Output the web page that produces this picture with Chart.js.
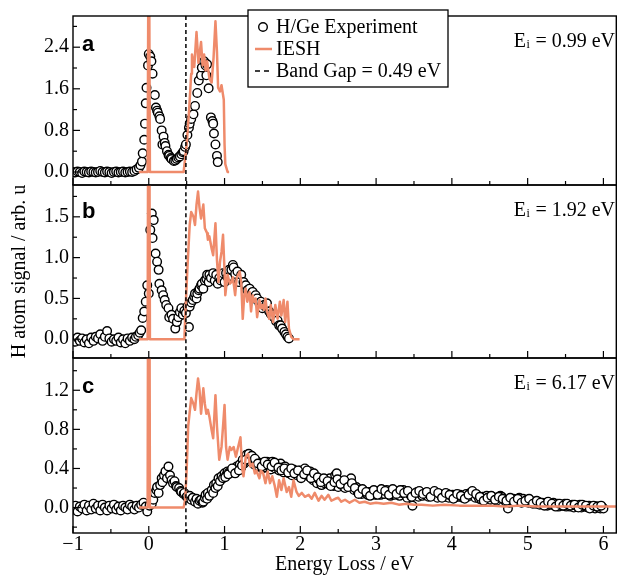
<!DOCTYPE html>
<html><head><meta charset="utf-8">
<script src="https://cdn.jsdelivr.net/npm/chart.js@4/dist/chart.umd.min.js"></script>
<style>
html,body{margin:0;padding:0;background:#fff;}
#wrap{position:relative;width:622px;height:577px;overflow:hidden;}
#wrap canvas{position:absolute;left:0;top:0;}
</style></head><body>
<div id="wrap">
<canvas id="pa" width="622" height="577"></canvas>
<canvas id="pb" width="622" height="577"></canvas>
<canvas id="pc" width="622" height="577"></canvas>
</div>
<script>
// ---------- data ----------
const xMajor = [-1, 0, 1, 2, 3, 4, 5, 6];
const xMinor = [-0.5, 0.5, 1.5, 2.5, 3.5, 4.5, 5.5];
const yTicksA = [0, 0.8, 1.6, 2.4];
const yMinorA = [0.4, 1.2, 2.0, 2.8];
const yTicksB = [0, 0.5, 1.0, 1.5];
const yMinorB = [0.25, 0.75, 1.25, 1.75];
const yTicksC = [0, 0.4, 0.8, 1.2];
const yMinorC = [-0.2, 0.2, 0.6, 1.0, 1.4];
const bandGap = 0.49;
const incidentEnergies = ['0.99', '1.92', '6.17'];
const legendLabels = ['H/Ge Experiment', 'IESH', 'Band Gap = 0.49 eV'];

const expA = [[-1.00,0.00],[-0.97,-0.01],[-0.94,0.01],[-0.91,0.00],[-0.88,-0.02],[-0.85,0.01],[-0.82,0.00],[-0.79,-0.01],[-0.76,0.01],[-0.73,0.00],
[-0.70,-0.01],[-0.67,0.00],[-0.64,0.02],[-0.61,0.00],[-0.58,-0.01],[-0.55,0.01],[-0.52,0.00],[-0.49,-0.02],[-0.46,0.00],[-0.43,0.01],
[-0.40,-0.01],[-0.37,0.00],[-0.34,0.01],[-0.31,-0.01],[-0.28,0.00],[-0.25,0.01],[-0.22,0.00],[-0.19,0.02],[-0.16,0.05],[-0.13,0.08],
[-0.11,0.13],[-0.09,0.20],[-0.08,0.36],[-0.06,0.62],[-0.05,0.93],[-0.04,1.32],[-0.03,1.62],[-0.01,2.05],[0.00,2.27],[0.02,2.22],
[0.035,2.13],[0.05,1.89],[0.08,1.48],[0.095,1.24],[0.11,1.18],[0.12,1.14],[0.14,1.07],[0.15,1.02],[0.17,0.80],[0.18,0.53],
[0.195,0.68],[0.21,0.56],[0.22,0.50],[0.24,0.40],[0.26,0.33],[0.27,0.31],[0.29,0.27],[0.30,0.25],[0.33,0.21],[0.35,0.22],
[0.37,0.25],[0.39,0.28],[0.41,0.30],[0.43,0.34],[0.45,0.38],[0.46,0.40],[0.48,0.48],[0.49,0.53],[0.51,0.71],[0.53,0.85],
[0.54,0.93],[0.56,1.02],[0.59,1.11],[0.61,1.27],[0.64,1.52],[0.66,1.76],[0.69,1.86],[0.70,2.01],[0.73,2.13],[0.75,2.05],
[0.76,1.86],[0.77,2.07],[0.79,1.61],[0.82,1.05],[0.84,0.98],[0.85,0.93],[0.86,0.74],[0.88,0.53],[0.90,0.31],[0.91,0.19]];

const ieshA = [[-0.13,0],[-0.015,0],[0,6],[0.015,0],[0.46,0],[0.50,0.53],[0.53,1.14],[0.56,1.89],[0.57,2.26],[0.60,2.02],
[0.63,2.69],[0.655,2.10],[0.69,2.50],[0.71,2.05],[0.73,2.26],[0.75,1.95],[0.77,2.13],[0.80,1.80],[0.83,1.72],[0.855,2.20],
[0.88,2.90],[0.90,2.30],[0.915,1.62],[0.94,1.55],[0.96,1.67],[0.99,1.39],[1.00,0.53],[1.01,0.15],[1.04,0],[1.06,0]];

const expB = [[-1.00,0.00],[-0.97,-0.03],[-0.94,0.02],[-0.91,-0.02],[-0.88,0.01],[-0.85,-0.04],[-0.82,0.00],[-0.79,-0.05],[-0.76,0.02],[-0.73,-0.02],
[-0.70,0.03],[-0.67,0.01],[-0.64,0.06],[-0.61,-0.02],[-0.58,0.03],[-0.55,0.10],[-0.52,0.01],[-0.49,-0.03],[-0.46,0.00],[-0.43,-0.02],
[-0.40,0.02],[-0.37,-0.04],[-0.34,0.00],[-0.31,-0.05],[-0.28,0.01],[-0.25,-0.02],[-0.22,0.02],[-0.19,0.00],[-0.17,0.03],[-0.14,0.05],
[-0.12,0.08],[-0.10,0.11],[-0.08,0.26],[-0.06,0.34],[-0.04,0.46],[-0.02,0.66],[0.00,0.56],[0.02,1.34],[0.04,1.54],[0.05,1.24],
[0.065,1.46],[0.09,1.05],[0.11,0.95],[0.13,0.85],[0.14,0.68],[0.17,0.60],[0.19,0.54],[0.21,0.48],[0.23,0.42],[0.26,0.38],
[0.27,0.27],[0.30,0.30],[0.32,0.25],[0.35,0.13],[0.37,0.21],[0.39,0.27],[0.41,0.33],[0.43,0.38],[0.45,0.30],[0.47,0.35],
[0.49,0.32],[0.51,0.40],[0.53,0.15],[0.54,0.40],[0.56,0.45],[0.58,0.48],[0.60,0.52],[0.61,0.56],[0.63,0.50],[0.64,0.56],
[0.66,0.60],[0.67,0.62],[0.69,0.66],[0.70,0.68],[0.72,0.62],[0.74,0.72],[0.76,0.74],[0.77,0.79],[0.79,0.70],[0.80,0.79],
[0.82,0.75],[0.85,0.81],[0.87,0.72],[0.89,0.79],[0.91,0.68],[0.93,0.75],[0.95,0.72],[0.98,0.81],[1.00,0.70],[1.02,0.81],
[1.04,0.76],[1.06,0.85],[1.09,0.85],[1.11,0.91],[1.12,0.88],[1.14,0.80],[1.17,0.83],[1.19,0.70],[1.22,0.79],[1.25,0.70],
[1.28,0.66],[1.30,0.60],[1.33,0.62],[1.35,0.55],[1.37,0.58],[1.39,0.50],[1.41,0.54],[1.43,0.50],[1.46,0.44],[1.48,0.46],
[1.50,0.38],[1.52,0.42],[1.54,0.40],[1.56,0.44],[1.59,0.34],[1.61,0.31],[1.63,0.30],[1.65,0.27],[1.68,0.22],[1.70,0.23],
[1.72,0.17],[1.74,0.17],[1.76,0.13],[1.79,0.09],[1.81,0.06],[1.83,0.03],[1.85,0.01]];

const ieshB = [[-0.13,0],[-0.015,0],[0,6],[0.015,0],[0.47,0],[0.48,0.25],[0.51,0.87],[0.54,1.40],[0.56,1.56],[0.59,1.50],
[0.61,1.40],[0.63,1.65],[0.65,1.81],[0.67,1.61],[0.69,1.48],[0.72,1.65],[0.74,1.36],[0.77,1.30],[0.78,1.22],[0.80,1.26],
[0.83,1.11],[0.85,1.03],[0.88,1.42],[0.90,0.97],[0.92,0.70],[0.94,0.95],[0.96,1.07],[0.98,1.28],[1.00,0.83],[1.01,0.54],
[1.04,0.79],[1.07,0.68],[1.09,0.70],[1.11,0.76],[1.14,0.54],[1.16,0.75],[1.20,0.83],[1.22,0.70],[1.24,0.25],[1.26,0.54],
[1.28,0.62],[1.30,0.46],[1.33,0.58],[1.35,0.34],[1.37,0.54],[1.39,0.46],[1.41,0.50],[1.43,0.27],[1.46,0.48],[1.48,0.38],
[1.50,0.42],[1.52,0.36],[1.54,0.50],[1.56,0.34],[1.59,0.25],[1.61,0.42],[1.64,0.21],[1.67,0.42],[1.70,0.25],[1.73,0.46],
[1.75,0.29],[1.78,0.48],[1.80,0.21],[1.83,0.46],[1.85,0.13],[1.88,0.03],[1.91,0],[1.99,0]];

const expC = [[-1.00,-0.02],[-0.97,0.02],[-0.94,-0.04],[-0.91,0.01],[-0.88,-0.01],[-0.85,0.03],[-0.82,-0.03],[-0.79,0.02],[-0.76,-0.02],[-0.73,0.04],
[-0.70,-0.01],[-0.67,0.02],[-0.64,-0.03],[-0.61,0.03],[-0.58,0.00],[-0.55,-0.03],[-0.52,0.02],[-0.49,-0.01],[-0.46,0.03],[-0.43,-0.02],
[-0.40,0.01],[-0.37,-0.03],[-0.34,0.02],[-0.31,0.00],[-0.28,-0.02],[-0.25,0.03],[-0.22,0.01],[-0.19,-0.02],[-0.16,0.02],[-0.13,0.00],
[-0.10,0.03],[-0.07,0.05],[-0.04,0.01],[-0.02,-0.04],[0.01,0.02],[0.04,0.04],[0.06,0.08],[0.08,0.15],[0.10,0.18],[0.11,0.21],
[0.13,0.15],[0.15,0.23],[0.17,0.30],[0.18,0.26],[0.20,0.33],[0.22,0.37],[0.24,0.30],[0.26,0.42],[0.28,0.33],[0.30,0.28],
[0.32,0.25],[0.34,0.27],[0.36,0.22],[0.37,0.21],[0.40,0.20],[0.42,0.17],[0.43,0.16],[0.46,0.14],[0.47,0.15],[0.50,0.11],
[0.52,0.10],[0.54,0.12],[0.56,0.08],[0.58,0.10],[0.61,0.06],[0.63,0.09],[0.65,0.04],[0.67,0.07],[0.69,0.08],[0.71,0.05],
[0.72,0.06],[0.74,0.10],[0.75,0.13],[0.77,0.09],[0.78,0.15],[0.80,0.12],[0.83,0.18],[0.85,0.15],[0.86,0.23],[0.88,0.20],
[0.89,0.25],[0.91,0.22],[0.92,0.30],[0.94,0.27],[0.96,0.32],[0.98,0.30],[1.00,0.35],[1.02,0.33],[1.04,0.37],[1.06,0.36],
[1.09,0.38],[1.11,0.36],[1.13,0.40],[1.15,0.38],[1.16,0.42],[1.18,0.40],[1.20,0.44],[1.22,0.41],[1.24,0.49],[1.26,0.45],
[1.29,0.54],[1.31,0.50],[1.33,0.52],[1.35,0.47],[1.37,0.50],[1.39,0.44],[1.41,0.48],[1.43,0.47],[1.45,0.42],[1.48,0.45],
[1.50,0.40],[1.52,0.44],[1.54,0.41],[1.56,0.47],[1.58,0.42],[1.61,0.39],[1.63,0.47],[1.65,0.43],[1.67,0.40],[1.70,0.44],
[1.72,0.38],[1.74,0.45],[1.76,0.41],[1.78,0.36],[1.80,0.42],[1.83,0.39],[1.85,0.35],[1.87,0.38],[1.89,0.33],[1.91,0.39],
[1.93,0.37],[1.96,0.33],[1.98,0.36],[2.00,0.38],[2.02,0.33],[2.04,0.36],[2.06,0.40],[2.08,0.35],[2.11,0.32],[2.13,0.37],
[2.15,0.33],[2.17,0.28],[2.19,0.30],[2.22,0.25],[2.24,0.29],[2.26,0.28],[2.28,0.23],[2.30,0.27],[2.32,0.25],[2.35,0.29],
[2.37,0.24],[2.39,0.30],[2.41,0.26],[2.44,0.22],[2.46,0.33],[2.48,0.35],[2.50,0.21],[2.52,0.27],[2.55,0.23],[2.57,0.25],
[2.59,0.20],[2.62,0.24],[2.64,0.27],[2.67,0.30],[2.69,0.22],[2.71,0.18],[2.74,0.21],[2.76,0.16],[2.79,0.18],[2.81,0.14],
[2.84,0.17],[2.86,0.15],[2.89,0.13],[2.91,0.16],[2.94,0.14],[2.96,0.17],[2.99,0.13],[3.01,0.15],[3.04,0.17],[3.06,0.13],
[3.09,0.16],[3.11,0.14],[3.14,0.18],[3.16,0.15],[3.19,0.12],[3.21,0.16],[3.24,0.13],[3.26,0.17],[3.29,0.15],[3.31,0.12],
[3.34,0.15],[3.36,0.18],[3.39,0.13],[3.41,0.10],[3.44,0.14],[3.46,0.12],[3.48,0.02],[3.51,0.13],[3.54,0.16],[3.56,0.11],
[3.59,0.14],[3.61,0.12],[3.64,0.15],[3.66,0.13],[3.69,0.11],[3.71,0.14],[3.74,0.12],[3.76,0.15],[3.79,0.13],[3.81,0.10],
[3.84,0.14],[3.86,0.12],[3.89,0.13],[3.91,0.11],[3.94,0.14],[3.96,0.10],[3.99,0.12],[4.01,0.13],[4.04,0.10],[4.06,0.12],
[4.09,0.11],[4.11,0.13],[4.14,0.10],[4.16,0.12],[4.19,0.14],[4.21,0.11],[4.24,0.15],[4.26,0.16],[4.29,0.13],[4.31,0.10],
[4.34,0.12],[4.36,0.09],[4.39,0.08],[4.41,0.11],[4.44,0.09],[4.46,0.12],[4.49,0.10],[4.51,0.08],[4.54,0.11],[4.56,0.09],
[4.59,0.07],[4.61,0.10],[4.64,0.12],[4.66,0.11],[4.69,0.08],[4.71,0.06],[4.74,-0.01],[4.76,0.05],[4.79,0.07],[4.81,0.09],
[4.84,0.06],[4.86,0.08],[4.89,0.10],[4.91,0.07],[4.94,0.09],[4.96,0.06],[4.99,0.08],[5.01,0.05],[5.04,0.07],[5.06,0.05],
[5.09,0.06],[5.11,0.04],[5.14,0.06],[5.16,0.03],[5.19,0.05],[5.21,0.03],[5.24,0.05],[5.26,0.02],[5.29,0.04],[5.31,0.03],
[5.34,0.05],[5.36,0.02],[5.39,0.04],[5.41,0.01],[5.44,0.03],[5.46,0.02],[5.49,0.04],[5.51,0.01],[5.54,0.03],[5.56,0.01],
[5.59,0.03],[5.61,0.00],[5.64,0.02],[5.66,0.01],[5.69,0.03],[5.71,0.00],[5.74,0.02],[5.76,0.01],[5.79,0.00],[5.81,0.02],
[5.84,0.00],[5.86,0.01],[5.89,-0.01],[5.91,0.01],[5.94,0.00],[5.96,-0.01],[5.99,0.00],[6.00,-0.01]];

// second, interleaved measurement scan for the E_i = 6.17 eV panel
const expC2 = [[1.01,0.31],[1.05,0.34],[1.10,0.40],[1.14,0.35],[1.19,0.38],[1.23,0.43],[1.28,0.49],[1.32,0.55],[1.36,0.53],[1.40,0.50],
[1.44,0.45],[1.49,0.42],[1.53,0.47],[1.57,0.44],[1.62,0.42],[1.66,0.46],[1.71,0.41],[1.75,0.38],[1.79,0.40],[1.84,0.36],
[1.88,0.40],[1.92,0.35],[1.97,0.38],[2.01,0.30],[2.05,0.34],[2.09,0.38],[2.14,0.30],[2.18,0.35],[2.23,0.31],[2.27,0.26],
[2.31,0.30],[2.36,0.27],[2.40,0.22],[2.45,0.26],[2.49,0.29],[2.53,0.24],[2.58,0.28],[2.63,0.21],[2.68,0.25],[2.72,0.20],
[2.77,0.14],[2.82,0.19],[2.87,0.16],[2.92,0.12],[2.97,0.18],[3.02,0.13],[3.07,0.19],[3.12,0.17],[3.17,0.13],[3.22,0.19],
[3.27,0.14],[3.32,0.18],[3.37,0.15],[3.42,0.17],[3.47,0.11],[3.52,0.15],[3.57,0.17],[3.62,0.14],[3.67,0.16],[3.72,0.11],
[3.77,0.17],[3.82,0.15],[3.87,0.10],[3.92,0.15],[3.97,0.13],[4.02,0.09],[4.07,0.14],[4.12,0.12],[4.17,0.09],[4.22,0.13],
[4.27,0.17],[4.32,0.14],[4.37,0.11],[4.42,0.07],[4.47,0.10],[4.52,0.12],[4.57,0.08],[4.62,0.11],[4.67,0.09],[4.72,0.07],
[4.77,0.10],[4.82,0.06],[4.87,0.09],[4.92,0.05],[4.97,0.07],[5.02,0.09],[5.07,0.04],[5.12,0.07],[5.17,0.05],[5.22,0.02],
[5.27,0.06],[5.32,0.04],[5.37,0.01],[5.42,0.04],[5.47,0.02],[5.52,0.04],[5.57,0.02],[5.62,0.03],[5.67,0.00],[5.72,0.03],
[5.77,0.02],[5.82,-0.01],[5.87,0.02],[5.92,0.01],[5.97,0.02]];

const ieshC = [[-0.13,0],[-0.015,0],[0,6],[0.015,0],[0.46,0],[0.48,0.08],[0.50,0.38],[0.52,0.83],[0.56,1.12],[0.59,1.06],
[0.61,1.00],[0.63,1.17],[0.65,1.32],[0.67,1.20],[0.69,0.96],[0.72,1.22],[0.74,1.06],[0.76,0.96],[0.78,1.00],[0.80,0.93],
[0.83,0.79],[0.85,0.71],[0.88,1.15],[0.90,0.83],[0.93,0.49],[0.96,0.62],[0.98,0.83],[1.00,1.05],[1.02,0.62],[1.04,0.49],
[1.07,0.62],[1.09,0.59],[1.12,0.62],[1.15,0.52],[1.17,0.59],[1.21,0.72],[1.23,0.42],[1.25,0.32],[1.28,0.52],[1.31,0.55],
[1.34,0.42],[1.37,0.45],[1.40,0.35],[1.42,0.38],[1.46,0.30],[1.48,0.38],[1.51,0.35],[1.54,0.25],[1.57,0.37],[1.60,0.25],
[1.63,0.32],[1.66,0.23],[1.69,0.11],[1.72,0.28],[1.75,0.18],[1.78,0.30],[1.82,0.16],[1.85,0.21],[1.88,0.11],[1.91,0.28],
[1.95,0.16],[1.98,0.12],[2.02,0.15],[2.06,0.11],[2.11,0.13],[2.15,0.09],[2.19,0.15],[2.24,0.07],[2.28,0.12],[2.32,0.08],
[2.37,0.13],[2.41,0.07],[2.46,0.09],[2.50,0.10],[2.54,0.06],[2.59,0.08],[2.65,0.05],[2.72,0.08],[2.78,0.05],[2.85,0.06],
[2.92,0.04],[3.00,0.05],[3.10,0.04],[3.20,0.05],[3.30,0.03],[3.40,0.04],[3.50,0.03],[3.60,0.03],[3.75,0.02],[3.90,0.03],
[4.10,0.02],[4.30,0.02],[4.50,0.02],[4.70,0.01],[4.90,0.02],[5.10,0.01],[5.30,0.01],[5.50,0.01],[5.70,0.01],[5.90,0.01],
[6.10,0.01],[6.20,0.01]];

// ---------- style ----------
const ORANGE = '#ef8b6b';
const SERIF = '"Liberation Serif", "Times New Roman", serif';
Chart.defaults.font.family = SERIF;
Chart.defaults.font.size = 20;
Chart.defaults.color = '#000';

const panels = {
  pa: {letter: 'a', letterDy: 35, ei: incidentEnergies[0], legend: true, major: yTicksA, minor: yMinorA},
  pb: {letter: 'b', letterDy: 33, ei: incidentEnergies[1], legend: false, major: yTicksB, minor: yMinorB},
  pc: {letter: 'c', letterDy: 35, ei: incidentEnergies[2], legend: false, major: yTicksC, minor: yMinorC}
};

function seg(ctx, x1, y1, x2, y2) { ctx.beginPath(); ctx.moveTo(x1, y1); ctx.lineTo(x2, y2); ctx.stroke(); }

const deco = {
  id: 'deco',
  afterDatasetsDraw(chart) {
    const o = panels[chart.canvas.id];
    const ctx = chart.ctx, a = chart.chartArea, xs = chart.scales.x, ys = chart.scales.y;
    ctx.save();
    ctx.strokeStyle = '#000';
    ctx.lineWidth = 1.4;
    ctx.strokeRect(a.left, a.top, a.right - a.left, a.bottom - a.top);
    ctx.lineWidth = 1.2;
    xMajor.forEach(v => { const p = xs.getPixelForValue(v); seg(ctx, p, a.bottom, p, a.bottom - 7); });
    xMinor.forEach(v => { const p = xs.getPixelForValue(v); seg(ctx, p, a.bottom, p, a.bottom - 4); });
    o.major.forEach(v => { const p = ys.getPixelForValue(v); seg(ctx, a.left, p, a.left + 7, p); });
    o.minor.forEach(v => { const p = ys.getPixelForValue(v); seg(ctx, a.left, p, a.left + 4, p); });
    ctx.fillStyle = '#000';
    ctx.textAlign = 'left';
    ctx.textBaseline = 'alphabetic';
    ctx.font = 'bold 22px "Liberation Sans", Arial, sans-serif';
    ctx.fillText(o.letter, 82, a.top + o.letterDy);
    const rest = ' = ' + o.ei + ' eV';
    ctx.font = '12px ' + SERIF; const wi = ctx.measureText('i').width;
    ctx.font = '20px ' + SERIF; const wE = ctx.measureText('E').width; const wr = ctx.measureText(rest).width;
    const x0 = 615 - (wE + wi + 1 + wr), yb = a.top + 31;
    ctx.fillText('E', x0, yb);
    ctx.font = '12px ' + SERIF; ctx.fillText('i', x0 + wE + 0.5, yb + 1);
    ctx.font = '20px ' + SERIF; ctx.fillText(rest, x0 + wE + wi + 1, yb);
    if (o.legend) {
      const L = 248, T = 10, R = 448, B = 87;
      ctx.fillStyle = '#fff';
      ctx.fillRect(L, T, R - L, B - T);
      ctx.strokeStyle = '#000'; ctx.lineWidth = 1.3;
      ctx.strokeRect(L, T, R - L, B - T);
      const rows = [27, 49, 71];
      ctx.lineWidth = 1.4;
      ctx.beginPath(); ctx.arc(263, rows[0], 4.3, 0, Math.PI * 2); ctx.fillStyle = '#fff'; ctx.fill(); ctx.stroke();
      ctx.strokeStyle = ORANGE; ctx.lineWidth = 2.5;
      seg(ctx, 255, rows[1], 272, rows[1]);
      ctx.strokeStyle = '#000'; ctx.lineWidth = 1.5; ctx.setLineDash([5, 4]);
      seg(ctx, 255, rows[2], 272, rows[2]);
      ctx.setLineDash([]);
      ctx.fillStyle = '#000';
      ctx.font = '20px ' + SERIF;
      ctx.textBaseline = 'middle';
      legendLabels.forEach((t, i) => ctx.fillText(t, 276, rows[i] + 1));
    }
    ctx.restore();
  }
};

function toXY(arr) { return arr.map(p => ({x: p[0], y: p[1]})); }

function makePanel(id, exp, iesh, ymin, ymax, yticks) {
  const isBottom = id === 'pc';
  const padTop = {pa: 10, pb: 185, pc: 358}[id];
  const padBottom = {pa: 392, pb: 219, pc: 0}[id];
  new Chart(document.getElementById(id), {
    type: 'scatter',
    data: {
      datasets: [
        {label: 'Band Gap', data: [{x: bandGap, y: -10}, {x: bandGap, y: 10}], showLine: true,
         borderColor: '#000', borderWidth: 1.5, borderDash: [4, 3], pointRadius: 0, order: 0},
        {label: 'IESH', data: toXY(iesh), showLine: true, borderColor: ORANGE, borderWidth: 2.5,
         pointRadius: 0, tension: 0, borderJoinStyle: 'round', order: 1},
        {label: 'H/Ge Experiment', data: toXY(exp), showLine: false, pointStyle: 'circle',
         pointRadius: 4.3, pointBorderWidth: 1.4, pointBackgroundColor: '#fff', pointBorderColor: '#000', order: 2}
      ]
    },
    options: {
      responsive: false,
      animation: false,
      devicePixelRatio: 1,
      events: [],
      layout: {padding: {top: padTop, bottom: padBottom, left: 0, right: 0}},
      plugins: {legend: {display: false}, tooltip: {enabled: false}},
      scales: {
        x: {
          type: 'linear', min: -1, max: 6.17, display: isBottom,
          grid: {display: false, drawTicks: false}, border: {display: false},
          afterBuildTicks: s => { s.ticks = xMajor.map(v => ({value: v})); },
          afterFit: s => { s.height = isBottom ? 44 : 0; },
          ticks: {padding: 0, autoSkip: false, maxRotation: 0, font: {size: 20},
                  callback: v => (v < 0 ? '\u2212' + Math.abs(v) : String(v))},
          title: {display: isBottom, text: 'Energy Loss / eV', font: {size: 20}, padding: {top: 0, bottom: 0}}
        },
        y: {
          type: 'linear', min: ymin, max: ymax,
          grid: {display: false, drawTicks: false}, border: {display: false},
          afterBuildTicks: s => { s.ticks = yticks.map(v => ({value: v})); },
          afterFit: s => { s.width = 73; },
          ticks: {padding: 4, font: {size: 20}, callback: v => Number(v).toFixed(1)},
          title: {display: id === 'pb', text: 'H atom signal / arb. u', font: {size: 20}, padding: {top: 8, bottom: 0}}
        }
      }
    },
    plugins: [deco]
  });
}

makePanel('pa', expA, ieshA, -0.25, 3.0, yTicksA);
makePanel('pb', expB, ieshB, -0.23, 1.89, yTicksB);
makePanel('pc', expC.concat(expC2), ieshC, -0.26, 1.53, yTicksC);
</script>
</body></html>
